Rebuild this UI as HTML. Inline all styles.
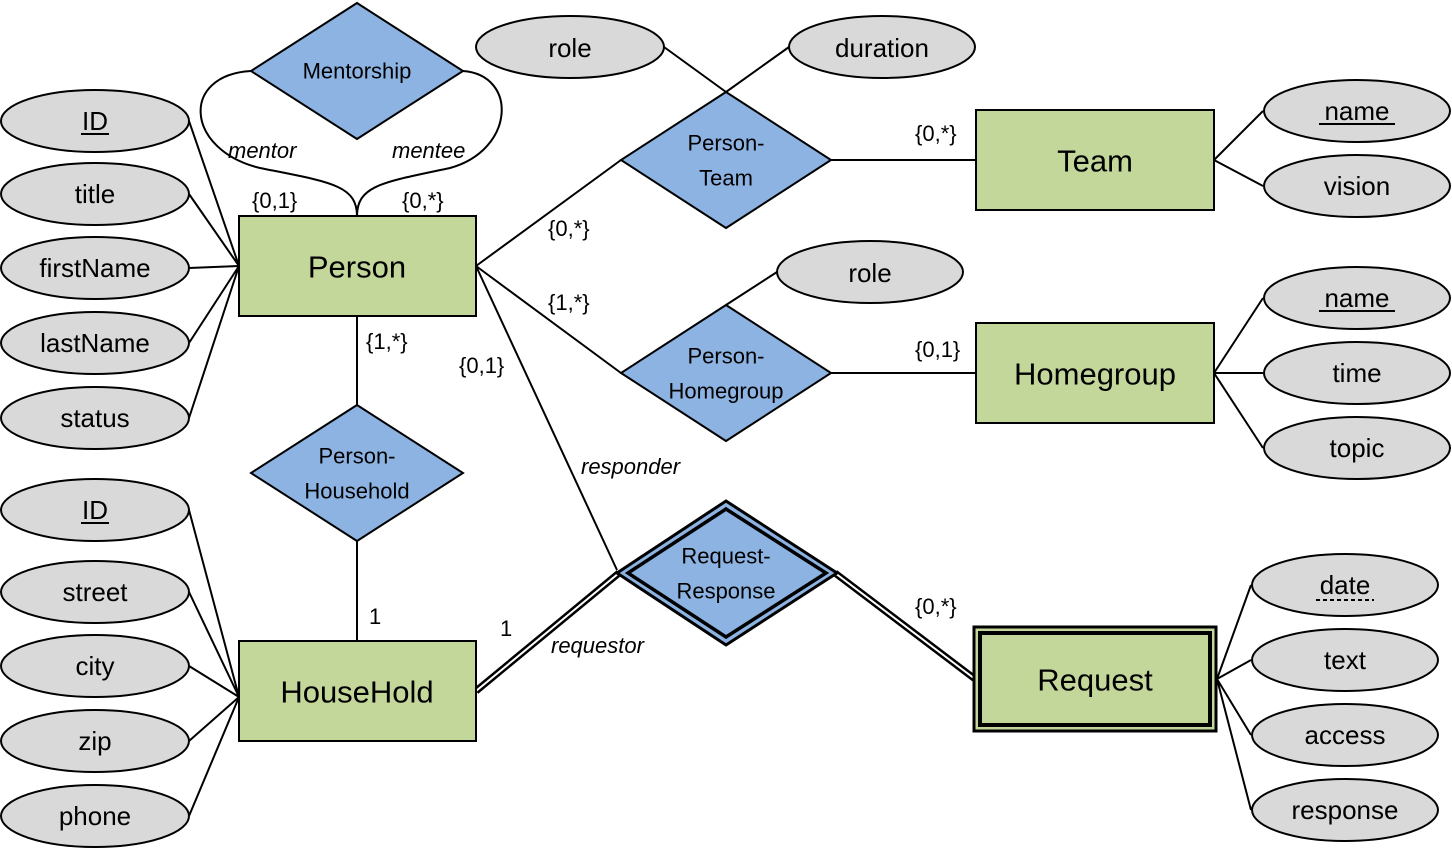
<!DOCTYPE html>
<html><head><meta charset="utf-8"><style>
html,body{margin:0;padding:0;background:#fff;}
svg{display:block;font-family:"Liberation Sans",sans-serif;}
.e{fill:#d9d9d9;stroke:#000;stroke-width:2;}
.r{fill:#c4d79b;stroke:#000;stroke-width:2;}
.d{fill:#8db3e2;stroke:#000;stroke-width:2;}
.l{stroke:#000;stroke-width:2;fill:none;}
.at{font-size:26px;text-anchor:middle;dominant-baseline:central;}
.en{font-size:31px;text-anchor:middle;dominant-baseline:central;}
.dl{font-size:22px;text-anchor:middle;dominant-baseline:central;}
.c{font-size:22px;}
.i{font-size:22px;font-style:italic;}
</style></head><body>
<svg width="1452" height="857" viewBox="0 0 1452 857">
<g class="l">
<path d="M189,121L239,266M189,194L239,266M189,268L239,266M189,343L239,266M189,418L239,266"/>
<path d="M189,510L239,697M189,592L239,697M189,666L239,697M189,741L239,697M189,816L239,697"/>
<path d="M476,266L621,160M831,160L976,160M664,47L726,92M789,47L726,92"/>
<path d="M476,266L621,373M831,373L976,373M777,272L726,305"/>
<path d="M357,316L357,405M357,541L357,641"/>
<path d="M476,266L617,570"/>
<path d="M1214,160L1263,111M1214,160L1263,186"/>
<path d="M1214,373L1263,298M1214,373L1263,373M1214,373L1263,448"/>
<path d="M1217,679L1251,585M1217,679L1251,660M1217,679L1251,735M1217,679L1251,810"/>
<path d="M251,71C180,75 185,150 260,168C330,182 357,185 357,216"/>
<path d="M463,71C518,75 515,150 450,168C384,182 357,185 357,216"/>
</g>
<path d="M476,691L619,573M835,573L975,679" stroke="#000" stroke-width="7" fill="none"/>
<path d="M476,691L619,573M835,573L975,679" stroke="#fff" stroke-width="2" fill="none"/>
<g class="e">
<ellipse cx="95" cy="121" rx="94" ry="31"/><ellipse cx="95" cy="194" rx="94" ry="31"/>
<ellipse cx="95" cy="268" rx="94" ry="31"/><ellipse cx="95" cy="343" rx="94" ry="31"/>
<ellipse cx="95" cy="418" rx="94" ry="31"/>
<ellipse cx="95" cy="510" rx="94" ry="31"/><ellipse cx="95" cy="592" rx="94" ry="31"/>
<ellipse cx="95" cy="666" rx="94" ry="31"/><ellipse cx="95" cy="741" rx="94" ry="31"/>
<ellipse cx="95" cy="816" rx="94" ry="31"/>
<ellipse cx="570" cy="47" rx="94" ry="31"/><ellipse cx="882" cy="47" rx="93" ry="31"/>
<ellipse cx="870" cy="272" rx="93" ry="31"/>
<ellipse cx="1357" cy="111" rx="93" ry="31"/><ellipse cx="1357" cy="186" rx="93" ry="31"/>
<ellipse cx="1357" cy="298" rx="93" ry="31"/><ellipse cx="1357" cy="373" rx="93" ry="31"/>
<ellipse cx="1357" cy="448" rx="93" ry="31"/>
<ellipse cx="1345" cy="585" rx="93" ry="31"/><ellipse cx="1345" cy="660" rx="93" ry="31"/>
<ellipse cx="1345" cy="735" rx="93" ry="31"/><ellipse cx="1345" cy="810" rx="93" ry="31"/>
</g>
<rect class="r" x="239" y="216" width="237" height="100"/>
<rect class="r" x="239" y="641" width="237" height="100"/>
<rect class="r" x="976" y="110" width="238" height="100"/>
<rect class="r" x="976" y="323" width="238" height="100"/>
<rect x="974" y="627" width="242" height="104" fill="#c4d79b" stroke="#000" stroke-width="3"/>
<rect x="980" y="633" width="230" height="92" fill="none" stroke="#000" stroke-width="4"/>
<polygon class="d" points="357,3 463,71 357,139 251,71"/>
<polygon class="d" points="726,92 831,160 726,228 621,160"/>
<polygon class="d" points="726,305 831,373 726,441 621,373"/>
<polygon class="d" points="357,405 463,473 357,541 251,473"/>
<polygon points="726,501 837,573 726,645 617,573" fill="#8db3e2" stroke="#000" stroke-width="3"/>
<polygon points="726,509 826,573 726,637 628,573" fill="none" stroke="#000" stroke-width="3.5"/>
<g class="at">
<text x="95" y="121">ID</text><text x="95" y="194">title</text><text x="95" y="268">firstName</text>
<text x="95" y="343">lastName</text><text x="95" y="418">status</text>
<text x="95" y="510">ID</text><text x="95" y="592">street</text><text x="95" y="666">city</text>
<text x="95" y="741">zip</text><text x="95" y="816">phone</text>
<text x="570" y="48">role</text><text x="882" y="48">duration</text><text x="870" y="273">role</text>
<text x="1357" y="111">name</text><text x="1357" y="186">vision</text>
<text x="1357" y="298">name</text><text x="1357" y="373">time</text><text x="1357" y="448">topic</text>
<text x="1345" y="585">date</text><text x="1345" y="660">text</text><text x="1345" y="735">access</text><text x="1345" y="810">response</text>
</g>
<g stroke="#000" stroke-width="2">
<line x1="81" y1="134" x2="109" y2="134"/><line x1="81" y1="523" x2="109" y2="523"/>
<line x1="1319" y1="124" x2="1395" y2="124"/><line x1="1319" y1="311" x2="1395" y2="311"/>
<line x1="1316" y1="600" x2="1374" y2="600" stroke-dasharray="4,3"/>
</g>
<g class="en">
<text x="357" y="267">Person</text><text x="357" y="692">HouseHold</text>
<text x="1095" y="161">Team</text><text x="1095" y="374">Homegroup</text><text x="1095" y="680">Request</text>
</g>
<g class="dl">
<text x="357" y="71">Mentorship</text>
<text x="726" y="143">Person-</text><text x="726" y="178">Team</text>
<text x="726" y="356">Person-</text><text x="726" y="391">Homegroup</text>
<text x="357" y="456">Person-</text><text x="357" y="491">Household</text>
<text x="726" y="556">Request-</text><text x="726" y="591">Response</text>
</g>
<g class="c">
<text x="252" y="208">{0,1}</text><text x="402" y="208">{0,*}</text>
<text x="915" y="141">{0,*}</text><text x="548" y="236">{0,*}</text>
<text x="548" y="310">{1,*}</text><text x="915" y="357">{0,1}</text>
<text x="366" y="349">{1,*}</text><text x="459" y="373">{0,1}</text>
<text x="369" y="624">1</text><text x="500" y="636">1</text>
<text x="915" y="614">{0,*}</text>
</g>
<g class="i">
<text x="228" y="158">mentor</text><text x="392" y="158">mentee</text>
<text x="581" y="474">responder</text><text x="551" y="653">requestor</text>
</g>
</svg>
</body></html>
